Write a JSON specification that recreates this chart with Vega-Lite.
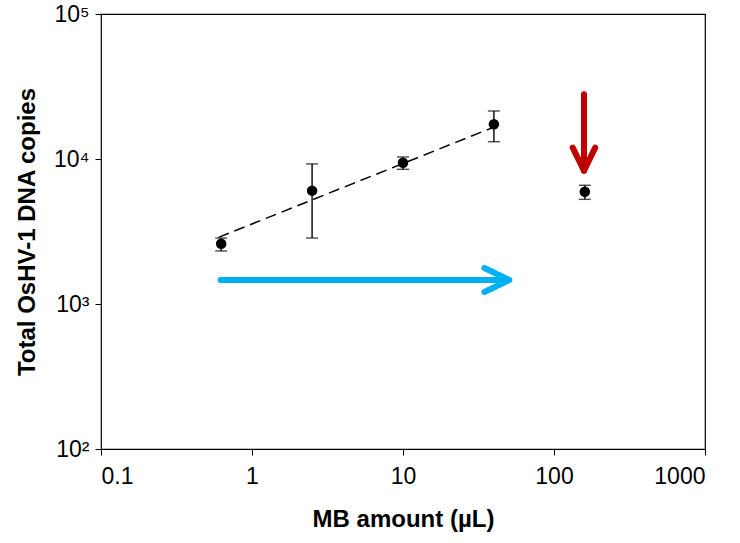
{
  "$schema": "https://vega.github.io/schema/vega-lite/v6.json",
  "width": 604,
  "height": 435,
  "autosize": "none",
  "padding": {"left": 101, "top": 14, "right": 35, "bottom": 94},
  "background": "white",
  "config": {
    "font": "Liberation Sans",
    "view": {"stroke": "black", "strokeWidth": 1.2},
    "axis": {
      "grid": false,
      "domainColor": "black",
      "tickColor": "black",
      "labelColor": "black",
      "titleColor": "black",
      "labelFont": "Liberation Sans",
      "titleFont": "Liberation Sans",
      "labelFontSize": 23,
      "titleFontSize": 24,
      "titleFontWeight": "bold",
      "tickSize": 6
    }
  },
  "datasets": {
    "pts": [
      {"mb": 0.625, "copies": 2600, "lo": 2320, "hi": 2850},
      {"mb": 2.5, "copies": 6050, "lo": 2850, "hi": 9250},
      {"mb": 10, "copies": 9420, "lo": 8490, "hi": 10330},
      {"mb": 40, "copies": 17350, "lo": 13160, "hi": 21430},
      {"mb": 160, "copies": 5950, "lo": 5270, "hi": 6590}
    ],
    "trend": [
      {"mb": 0.6, "copies": 2880},
      {"mb": 40, "copies": 16600}
    ],
    "arrows": [
      {"arrow": "blue", "x1": 0.62, "y1": 1465, "x2": 49, "y2": 1465},
      {"arrow": "blue", "x1": 34.6, "y1": 1771, "x2": 50.5, "y2": 1465},
      {"arrow": "blue", "x1": 34.6, "y1": 1210, "x2": 50.5, "y2": 1465},
      {"arrow": "red", "x1": 158, "y1": 28000, "x2": 158, "y2": 8600},
      {"arrow": "red", "x1": 133, "y1": 11970, "x2": 158, "y2": 8300},
      {"arrow": "red", "x1": 187.5, "y1": 11970, "x2": 158, "y2": 8300}
    ]
  },
  "layer": [
    {
      "data": {"name": "arrows"},
      "mark": {"type": "rule", "strokeWidth": 6, "strokeCap": "round"},
      "encoding": {
        "x": {"field": "x1", "type": "quantitative", "scale": {"type": "log", "domain": [0.1, 1000]},
          "axis": {"values": [0.1, 1, 10, 100, 1000], "labelExpr": "datum.value < 1 ? '0.1' : format(datum.value, 'd')", "labelPadding": 10, "titlePadding": 19, "domain": false},
          "title": "MB amount (µL)"},
        "x2": {"field": "x2"},
        "y": {"field": "y1", "type": "quantitative", "scale": {"type": "log", "domain": [100, 100000]},
          "axis": {"values": [100, 1000, 10000, 100000], "labelExpr": "datum.value == 100 ? '10²' : datum.value == 1000 ? '10³' : datum.value == 10000 ? '10⁴' : '10⁵'", "labelPadding": 6, "titlePadding": 14, "domain": false},
          "title": "Total OsHV-1 DNA copies"},
        "y2": {"field": "y2"},
        "color": {"field": "arrow", "type": "nominal", "scale": {"domain": ["blue", "red"], "range": ["#00B0F0", "#C00000"]}, "legend": null}
      }
    },
    {
      "data": {"name": "trend"},
      "mark": {"type": "line", "color": "black", "strokeWidth": 1.5, "strokeDash": [11, 6]},
      "encoding": {
        "x": {"field": "mb", "type": "quantitative", "title": "MB amount (µL)"},
        "y": {"field": "copies", "type": "quantitative", "title": "Total OsHV-1 DNA copies"}
      }
    },
    {
      "data": {"name": "pts"},
      "mark": {"type": "errorbar", "color": "black", "thickness": 1.4, "ticks": {"size": 12, "thickness": 1.4, "color": "black"}},
      "encoding": {
        "x": {"field": "mb", "type": "quantitative", "title": "MB amount (µL)"},
        "y": {"field": "lo", "type": "quantitative", "title": "Total OsHV-1 DNA copies"},
        "y2": {"field": "hi"}
      }
    },
    {
      "data": {"name": "pts"},
      "mark": {"type": "point", "filled": true, "color": "black", "opacity": 1, "size": 110},
      "encoding": {
        "x": {"field": "mb", "type": "quantitative", "title": "MB amount (µL)"},
        "y": {"field": "copies", "type": "quantitative", "title": "Total OsHV-1 DNA copies"}
      }
    }
  ]
}
